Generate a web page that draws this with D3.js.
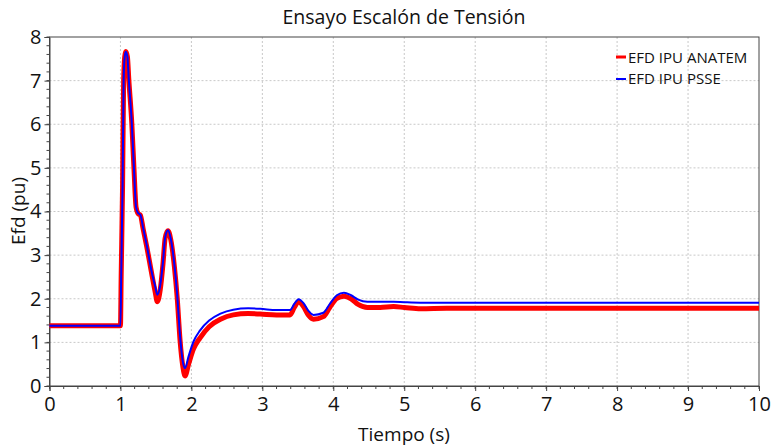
<!DOCTYPE html>
<html>
<head>
<meta charset="utf-8">
<script src="https://cdn.jsdelivr.net/npm/d3@7"></script>
<style>
  body { margin: 0; background: #fff; }
  text { font-family: "Open Sans", "Noto Sans", sans-serif; fill: #111; }
</style>
</head>
<body>
<div id="chart"></div>
<script>
// Chart data
var tiempo = [0, 1.0, 1.01, 1.03, 1.045, 1.06, 1.075, 1.098, 1.118, 1.16, 1.19, 1.22, 1.25, 1.28, 1.32,
  1.37, 1.44, 1.49, 1.52, 1.56, 1.60, 1.63, 1.67, 1.71, 1.76, 1.80, 1.84, 1.88, 1.91, 1.96, 2.03,
  2.12, 2.25, 2.41, 2.59, 2.8, 2.97, 3.2, 3.39, 3.45, 3.51, 3.58, 3.65, 3.72, 3.86, 3.95, 4.05,
  4.15, 4.25, 4.35, 4.48, 4.66, 4.85, 5.0, 5.23, 5.6, 6, 7, 8, 9, 10];

var efdAnatem = [1.38, 1.38, 2.5, 4.6, 7.0, 7.55, 7.67, 7.55, 7.02, 6.02, 5.0, 4.1, 3.95, 3.92, 3.6,
  3.2, 2.58, 2.15, 1.93, 2.2, 2.81, 3.39, 3.56, 3.35, 2.74, 2.02, 1.05, 0.44, 0.23, 0.5, 0.85,
  1.1, 1.36, 1.53, 1.63, 1.66, 1.65, 1.63, 1.63, 1.8, 1.93, 1.82, 1.62, 1.53, 1.59, 1.8, 2.01,
  2.06, 2.0, 1.87, 1.8, 1.8, 1.82, 1.8, 1.77, 1.78, 1.78, 1.78, 1.78, 1.78, 1.78];

var efdPsse = [1.38, 1.38, 2.5, 4.6, 7.0, 7.55, 7.66, 7.55, 7.02, 6.02, 5.0, 4.1, 3.96, 3.93, 3.62,
  3.23, 2.62, 2.28, 2.09, 2.3, 2.85, 3.4, 3.57, 3.37, 2.78, 2.08, 1.15, 0.55, 0.41, 0.68, 1.02,
  1.27, 1.5, 1.66, 1.75, 1.78, 1.77, 1.74, 1.74, 1.88, 1.99, 1.9, 1.72, 1.63, 1.68, 1.88, 2.08,
  2.14, 2.08, 1.98, 1.93, 1.93, 1.93, 1.92, 1.91, 1.91, 1.91, 1.91, 1.91, 1.91, 1.91];

var seriesNames = ["EFD IPU ANATEM", "EFD IPU PSSE"];
var xTicks = [0, 1, 2, 3, 4, 5, 6, 7, 8, 9, 10];
var yTicks = [0, 1, 2, 3, 4, 5, 6, 7, 8];

var svgWidth = 772;
var svgHeight = 448;

var svg = d3.select("#chart")
  .append("svg")
  .attr("width", svgWidth)
  .attr("height", svgHeight);

// Scales
var x = d3.scaleLinear().domain([0, 10]).range([49.5, 759]);
var y = d3.scaleLinear().domain([0, 8]).range([386, 37]);

// Grid lines
var grid = svg.append("g");
grid.selectAll(".gx")
  .data(xTicks.slice(1, -1))
  .enter().append("line")
  .attr("x1", d => x(d)).attr("x2", d => x(d))
  .attr("y1", y(8)).attr("y2", y(0))
  .attr("stroke", "#c8c8c8").attr("stroke-dasharray", "2,2");
grid.selectAll(".gy")
  .data(yTicks.slice(1, -1))
  .enter().append("line")
  .attr("x1", x(0)).attr("x2", x(10))
  .attr("y1", d => y(d)).attr("y2", d => y(d))
  .attr("stroke", "#c8c8c8").attr("stroke-dasharray", "2,2");

// Frame
svg.append("rect")
  .attr("x", x(0)).attr("y", y(8))
  .attr("width", x(10) - x(0)).attr("height", y(0) - y(8))
  .attr("fill", "none").attr("stroke", "#444").attr("stroke-width", 1);

// Axes
var bottomAxis = d3.axisBottom(x).tickValues(xTicks).tickSize(5).tickPadding(6).tickFormat(d3.format("d"));
var leftAxis = d3.axisLeft(y).tickValues(yTicks).tickSize(5).tickPadding(3).tickFormat(d3.format("d"));

var minorX = d3.range(0, 10.01, 0.2);
var minorY = d3.range(0, 8.01, 0.2);

var gx = svg.append("g")
  .attr("transform", `translate(0, ${y(0)})`)
  .call(bottomAxis);
gx.append("g").selectAll("line")
  .data(minorX)
  .enter().append("line")
  .attr("x1", d => x(d)).attr("x2", d => x(d))
  .attr("y1", 0).attr("y2", 3)
  .attr("stroke", "#444");

var gy = svg.append("g")
  .attr("transform", `translate(${x(0)}, 0)`)
  .call(leftAxis);
gy.append("g").selectAll("line")
  .data(minorY)
  .enter().append("line")
  .attr("x1", -3).attr("x2", 0)
  .attr("y1", d => y(d)).attr("y2", d => y(d))
  .attr("stroke", "#444");

[gx, gy].forEach(function(g) {
  g.select(".domain").attr("stroke", "#444");
  g.selectAll(".tick line").attr("stroke", "#444");
  g.selectAll(".tick text")
    .style("font-family", "'Open Sans', 'Noto Sans', sans-serif")
    .style("font-size", "20px")
    .attr("fill", "#111");
});

// Lines
var efdLine = d3.line()
  .x((d, i) => x(tiempo[i]))
  .y(d => y(d))
  .curve(d3.curveMonotoneX);

svg.append("path")
  .datum(efdAnatem)
  .attr("d", efdLine)
  .attr("fill", "none")
  .attr("stroke", "#ff0000")
  .attr("stroke-width", 5)
  .attr("stroke-linejoin", "round");

svg.append("path")
  .datum(efdPsse)
  .attr("d", efdLine)
  .attr("fill", "none")
  .attr("stroke", "#0000ff")
  .attr("stroke-width", 2)
  .attr("stroke-linejoin", "round");

// Legend
var legend = svg.append("g");
var legendColors = ["#ff0000", "#0000ff"];
var legendWidths = [3, 2];
seriesNames.forEach(function(name, i) {
  legend.append("line")
    .attr("x1", 616).attr("x2", 626)
    .attr("y1", 57 + i * 22).attr("y2", 57 + i * 22)
    .attr("stroke", legendColors[i])
    .attr("stroke-width", legendWidths[i]);
  legend.append("text")
    .attr("x", 628).attr("y", 63 + i * 21)
    .style("font-size", "15px")
    .text(name);
});

// Title and axis labels
svg.append("text")
  .attr("x", 404).attr("y", 24)
  .attr("text-anchor", "middle")
  .style("font-size", "19.5px")
  .text("Ensayo Escalón de Tensión");

svg.append("text")
  .attr("transform", "rotate(-90)")
  .attr("x", -211).attr("y", 25)
  .attr("text-anchor", "middle")
  .style("font-size", "19px")
  .text("Efd (pu)");

svg.append("text")
  .attr("x", 404).attr("y", 441)
  .attr("text-anchor", "middle")
  .style("font-size", "19px")
  .text("Tiempo (s)");
</script>
</body>
</html>
